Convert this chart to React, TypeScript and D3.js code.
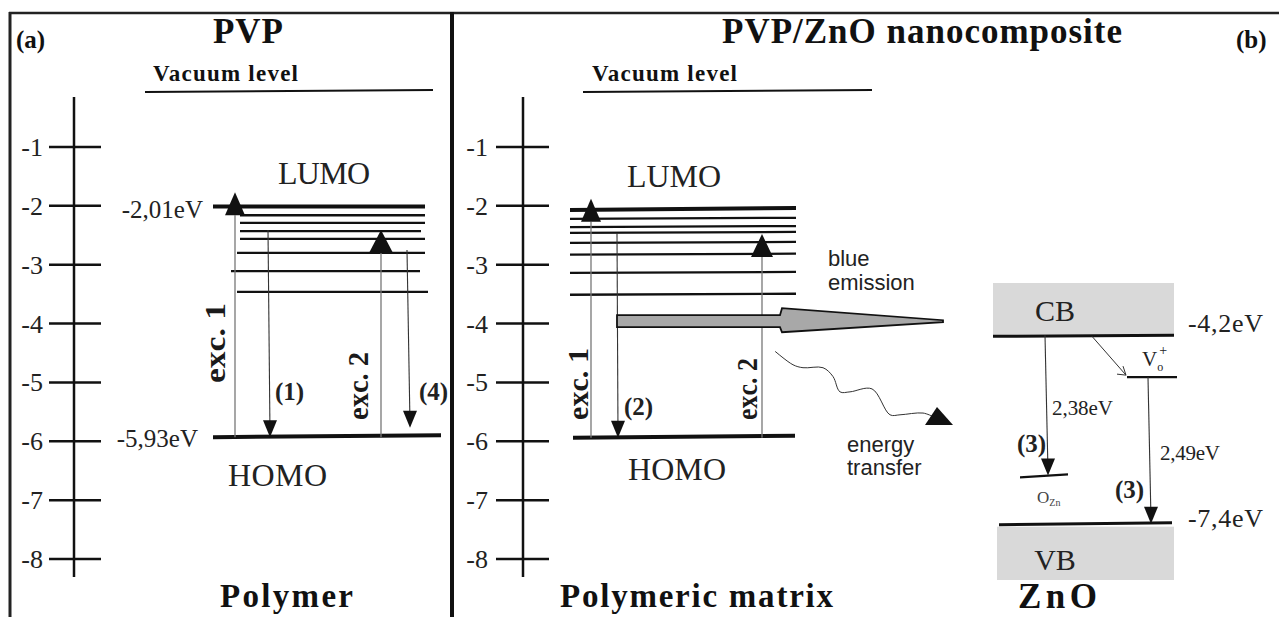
import React from "react";
import * as d3 from "d3";

// energy axis ticks (eV)
const tickValues = [-1, -2, -3, -4, -5, -6, -7, -8];

// PVP levels (eV)
const pvpLumo = -2.01;
const pvpHomo = -5.93;
const pvpSubLevels = [-2.16, -2.29, -2.43, -2.56, -2.8, -3.11, -3.46];
const pvpExcitations = [
  { label: "exc. 1", to: -2.16 },
  { label: "exc. 2", to: -2.8 },
];
const pvpEmissions = [
  { label: "(1)", from: -2.41, to: -5.93 },
  { label: "(4)", from: -2.75, to: -5.77 },
];

// polymeric matrix levels (eV)
const matrixLumo = -2.07;
const matrixHomo = -5.94;
const matrixSubLevels = [-2.22, -2.36, -2.46, -2.63, -2.83, -3.14, -3.51];
const matrixExcitations = [
  { label: "exc. 1", to: -2.27 },
  { label: "exc. 2", to: -2.87 },
];
const matrixEmissions = [{ label: "(2)", from: -2.46, to: -5.94 }];
const blueEmission = -3.96;

// ZnO bands (eV)
const znoCB = -4.2;
const znoVB = -7.4;
const gapVo = 2.49;
const gapOzn = 2.38;
const cbLabel = "-4,2eV";
const vbLabel = "-7,4eV";

// energy transfer squiggle: [dx, E]
const transferPath = [
  [0, -4.47], [18, -4.7], [28, -4.75], [48, -4.75], [58, -4.9], [65, -5.16],
  [75, -5.16], [97, -5.11], [115, -5.55], [125, -5.55], [148, -5.52], [158, -5.58],
];

const SERIF = "'Liberation Serif','Times New Roman',serif";
const SANS = "'Liberation Sans',Arial,sans-serif";

const y = d3.scaleLinear().domain([-1, -8]).range([147, 559]);

function Axis({ x, t1, t2, lx }: { x: number; t1: number; t2: number; lx: number }) {
  return (
    <g>
      <line x1={x} x2={x} y1={97} y2={577} stroke="#111" strokeWidth={2.5} />
      {tickValues.map((v) => (
        <g key={v}>
          <line x1={t1} x2={t2} y1={y(v)} y2={y(v)} stroke="#111" strokeWidth={2.5} />
          <text x={lx} y={y(v) + 9} textAnchor="end" fontFamily={SERIF} fontSize={26} fill="#222">
            {String(v)}
          </text>
        </g>
      ))}
    </g>
  );
}

function UpArrow({ x, from, to, w }: { x: number; from: number; to: number; w: number }) {
  const yb = y(to);
  return (
    <g>
      <line x1={x} x2={x} y1={y(from)} y2={yb} stroke="#777" strokeWidth={1.3} />
      <path d={`M${x - w / 2},${yb} L${x + w / 2},${yb} L${x},${yb - 23} Z`} fill="#111" />
    </g>
  );
}

function DownArrow({ x1, x2, from, to }: { x1: number; x2: number; from: number; to: number }) {
  const ye = y(to);
  return (
    <g>
      <line x1={x1} x2={x2} y1={y(from)} y2={ye - 4} stroke="#333" strokeWidth={1.1} />
      <path d={`M${x2 - 7},${ye - 17} L${x2 + 7},${ye - 17} L${x2},${ye} Z`} fill="#111" />
    </g>
  );
}

function RotLabel({ x, yy, len, text }: { x: number; yy: number; len: number; text: string }) {
  return (
    <text
      transform={`translate(${x},${yy}) rotate(-90)`}
      fontFamily={SERIF}
      fontWeight="bold"
      fontSize={30}
      textLength={len}
      lengthAdjust="spacingAndGlyphs"
      fill="#1a1a1a"
    >
      {text}
    </text>
  );
}

export default function App() {
  // left panel layout
  const pvpSubStart = [240, 240, 240, 240, 237, 231, 237];
  const pvpSubEnd = [425, 425, 421, 425, 425, 420, 428];
  const pvpExcX = [235, 381];
  const pvpExcW = [20, 24];
  const pvpExcLab = [
    { x: 225, y: 383, len: 80 },
    { x: 368, y: 420, len: 68 },
  ];
  const pvpEmitX = [
    [268, 270],
    [407, 410],
  ];
  const pvpEmitLab = [
    { x: 275, y: 400 },
    { x: 419, y: 400 },
  ];

  // middle panel layout
  const mExcX = [591, 762];
  const mExcW = [20, 22];
  const mExcLab = [
    { x: 588, y: 420, len: 72 },
    { x: 757, y: 420, len: 62 },
  ];
  const mEmitX = [[617, 618]];
  const mEmitLab = [{ x: 624, y: 415 }];

  const yCB = y(znoCB);
  const yVB = y(znoVB);
  const yVo = y(znoVB + gapVo);
  const yOzn = y(znoCB - gapOzn);
  const yBlue = y(blueEmission);

  const squiggle = d3
    .line<number[]>()
    .x((d) => 775 + d[0])
    .y((d) => y(d[1]))
    .curve(d3.curveCatmullRom)(transferPath as any);

  return (
    <svg width={1279} height={617} style={{ position: "absolute", left: 0, top: 0, background: "#fff" }}>
      {/* frame */}
      <line x1={9} x2={1279} y1={13} y2={13} stroke="#222" strokeWidth={2.5} />
      <line x1={10} x2={10} y1={12} y2={617} stroke="#222" strokeWidth={3} />
      <line x1={452} x2={452} y1={12} y2={617} stroke="#111" strokeWidth={4} />

      {/* titles */}
      <text x={16} y={48} fontFamily={SERIF} fontWeight="bold" fontSize={25} fill="#111">(a)</text>
      <text x={1236} y={48} fontFamily={SERIF} fontWeight="bold" fontSize={25} fill="#111">(b)</text>
      <text x={213} y={43} fontFamily={SERIF} fontWeight="bold" fontSize={35} textLength={70} fill="#111">PVP</text>
      <text x={722} y={43} fontFamily={SERIF} fontWeight="bold" fontSize={35} textLength={400} fill="#111">
        PVP/ZnO nanocomposite
      </text>
      <text x={220} y={607} fontFamily={SERIF} fontWeight="bold" fontSize={33} textLength={133} fill="#111">Polymer</text>
      <text x={560} y={607} fontFamily={SERIF} fontWeight="bold" fontSize={33} textLength={273} fill="#111">
        Polymeric matrix
      </text>
      <text x={1018} y={608} fontFamily={SERIF} fontWeight="bold" fontSize={35} textLength={79} fill="#111">ZnO</text>

      {/* vacuum levels */}
      <text x={153} y={81} fontFamily={SERIF} fontWeight="bold" fontSize={23} textLength={145} fill="#111">Vacuum level</text>
      <line x1={145} x2={433} y1={92} y2={90} stroke="#111" strokeWidth={2} />
      <text x={592} y={81} fontFamily={SERIF} fontWeight="bold" fontSize={23} textLength={145} fill="#111">Vacuum level</text>
      <line x1={583} x2={872} y1={92} y2={90} stroke="#111" strokeWidth={2} />

      {/* axes */}
      <Axis x={74} t1={49} t2={101} lx={43} />
      <Axis x={523} t1={496} t2={549} lx={488} />

      {/* ---- PVP panel ---- */}
      <text x={278} y={184} fontFamily={SERIF} fontSize={32} textLength={92} fill="#222">LUMO</text>
      <text x={228} y={486} fontFamily={SERIF} fontSize={32} textLength={99} fill="#222">HOMO</text>
      <text x={203} y={218} textAnchor="end" fontFamily={SERIF} fontSize={25} fill="#222">-2,01eV</text>
      <text x={198} y={447} textAnchor="end" fontFamily={SERIF} fontSize={25} fill="#222">-5,93eV</text>
      <line x1={213} x2={425} y1={y(pvpLumo)} y2={y(pvpLumo)} stroke="#111" strokeWidth={4} />
      {pvpSubLevels.map((e, i) => (
        <line key={i} x1={pvpSubStart[i]} x2={pvpSubEnd[i]} y1={y(e)} y2={y(e)} stroke="#111" strokeWidth={2.3} />
      ))}
      <line x1={213} x2={441} y1={y(pvpHomo)} y2={y(pvpHomo) - 2} stroke="#111" strokeWidth={4} />
      {pvpExcitations.map((t, i) => (
        <g key={t.label}>
          <UpArrow x={pvpExcX[i]} from={pvpHomo} to={t.to} w={pvpExcW[i]} />
          <RotLabel x={pvpExcLab[i].x} yy={pvpExcLab[i].y} len={pvpExcLab[i].len} text={t.label} />
        </g>
      ))}
      {pvpEmissions.map((t, i) => (
        <g key={t.label}>
          <DownArrow x1={pvpEmitX[i][0]} x2={pvpEmitX[i][1]} from={t.from} to={t.to} />
          <text x={pvpEmitLab[i].x} y={pvpEmitLab[i].y} fontFamily={SERIF} fontWeight="bold" fontSize={25} fill="#222">
            {t.label}
          </text>
        </g>
      ))}

      {/* ---- matrix panel ---- */}
      <text x={627} y={187} fontFamily={SERIF} fontSize={32} textLength={94} fill="#222">LUMO</text>
      <text x={628} y={480} fontFamily={SERIF} fontSize={32} textLength={98} fill="#222">HOMO</text>
      <line x1={570} x2={796} y1={y(matrixLumo)} y2={y(matrixLumo) - 2} stroke="#111" strokeWidth={4} />
      {matrixSubLevels.map((e, i) => (
        <line key={i} x1={570} x2={796} y1={y(e)} y2={y(e) - 1} stroke="#111" strokeWidth={2.3} />
      ))}
      <line x1={573} x2={795} y1={y(matrixHomo)} y2={y(matrixHomo) - 2} stroke="#111" strokeWidth={4} />
      {matrixExcitations.map((t, i) => (
        <g key={t.label}>
          <UpArrow x={mExcX[i]} from={matrixHomo} to={t.to} w={mExcW[i]} />
          <RotLabel x={mExcLab[i].x} yy={mExcLab[i].y} len={mExcLab[i].len} text={t.label} />
        </g>
      ))}
      {matrixEmissions.map((t, i) => (
        <g key={t.label}>
          <DownArrow x1={mEmitX[i][0]} x2={mEmitX[i][1]} from={t.from} to={t.to} />
          <text x={mEmitLab[i].x} y={mEmitLab[i].y} fontFamily={SERIF} fontWeight="bold" fontSize={25} fill="#222">
            {t.label}
          </text>
        </g>
      ))}

      {/* blue emission arrow */}
      <path
        d={`M617,${yBlue - 6} L780,${yBlue - 6} L782,${yBlue - 13} L943,${yBlue - 1} L943,${yBlue + 1} L782,${yBlue + 11} L780,${yBlue + 6} L617,${yBlue + 6} Z`}
        fill="#a8a8a8"
        stroke="#111"
        strokeWidth={1.8}
        strokeLinejoin="miter"
      />
      <text fontFamily={SANS} fontSize={22} fill="#222">
        <tspan x={828} y={266}>blue</tspan>
        <tspan x={828} y={290}>emission</tspan>
      </text>

      {/* energy transfer */}
      <path d={squiggle || ""} fill="none" stroke="#333" strokeWidth={1} />
      <path d="M925,425 L953,425 L937,407 Z" fill="#111" />
      <text fontFamily={SANS} fontSize={22} fill="#222">
        <tspan x={847} y={452}>energy</tspan>
        <tspan x={847} y={475}>transfer</tspan>
      </text>

      {/* ---- ZnO ---- */}
      <rect x={993} y={283} width={181} height={yCB - 283} fill="#d9d9d9" />
      <line x1={993} x2={1174} y1={yCB + 1} y2={yCB} stroke="#111" strokeWidth={3} />
      <text x={1055} y={321} textAnchor="middle" fontFamily={SERIF} fontSize={30} fill="#222">CB</text>
      <text x={1188} y={332} fontFamily={SERIF} fontSize={26} textLength={75} fill="#222">{cbLabel}</text>

      <rect x={997} y={yVB + 3} width={177} height={580 - yVB - 3} fill="#d9d9d9" />
      <line x1={999} x2={1172} y1={yVB + 1} y2={yVB - 1} stroke="#111" strokeWidth={3} />
      <text x={1055} y={570} textAnchor="middle" fontFamily={SERIF} fontSize={30} fill="#222">VB</text>
      <text x={1188} y={527} fontFamily={SERIF} fontSize={26} textLength={75} fill="#222">{vbLabel}</text>

      {/* V_o+ level */}
      <line x1={1127} x2={1177} y1={yVo} y2={yVo} stroke="#111" strokeWidth={2.2} />
      <text x={1142} y={366} fontFamily={SERIF} fontSize={21} fill="#222">
        V
        <tspan fontSize={12} dx={0} dy={5}>o</tspan>
        <tspan fontSize={14} dx={-4} dy={-16}>+</tspan>
      </text>
      <line x1={1092} x2={1126} y1={yCB + 1} y2={yVo - 2} stroke="#333" strokeWidth={1} />
      <path d={`M1117,${yVo - 3} L1126,${yVo - 2} L1123,${yVo - 11}`} fill="none" stroke="#333" strokeWidth={1} />

      {/* O_Zn level */}
      <line x1={1020} x2={1068} y1={yOzn + 2} y2={yOzn - 1} stroke="#111" strokeWidth={2.2} />
      <text x={1037} y={503} fontFamily={SERIF} fontSize={17} fill="#444">
        O<tspan fontSize={10} dy={3}>Zn</tspan>
      </text>

      {/* ZnO transitions */}
      <DownArrow x1={1045} x2={1048} from={znoCB} to={znoCB - gapOzn} />
      <text x={1052} y={415} fontFamily={SERIF} fontSize={21} textLength={61} fill="#222">2,38eV</text>
      <text x={1017} y={452} fontFamily={SERIF} fontWeight="bold" fontSize={25} fill="#222">(3)</text>

      <DownArrow x1={1148} x2={1151} from={znoVB + gapVo} to={znoVB} />
      <text x={1160} y={460} fontFamily={SERIF} fontSize={21} textLength={60} fill="#222">2,49eV</text>
      <text x={1115} y={498} fontFamily={SERIF} fontWeight="bold" fontSize={25} fill="#222">(3)</text>
    </svg>
  );
}
